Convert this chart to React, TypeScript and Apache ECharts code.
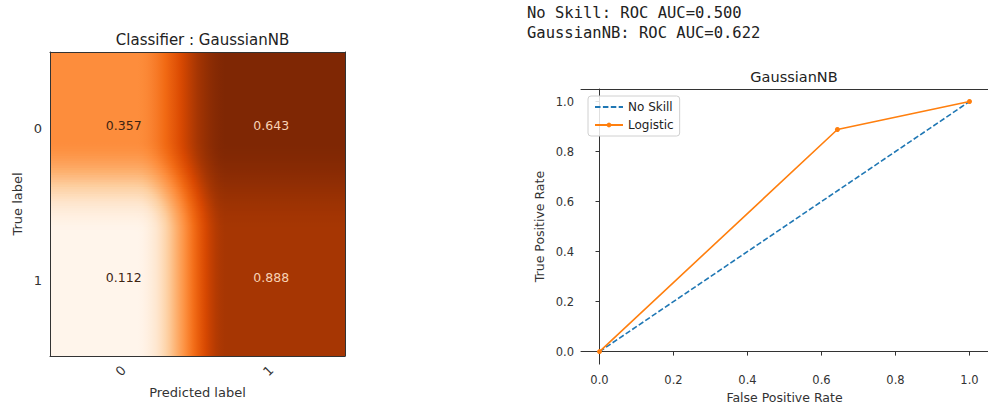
import React, { useEffect, useRef } from 'react';
import * as echarts from 'echarts';

// ---- data ----
const predictedLabels = ['0', '1'];
const trueLabels = ['0', '1'];
// normalized confusion matrix (rows = true label, cols = predicted label)
const cmRow0 = [0.357, 0.643];
const cmRow1 = [0.112, 0.888];
// colour intensity of each cell on the Oranges map
const shadeRow0 = [0.5, 1.0];
const shadeRow1 = [0.0, 0.875];

const rocTicks = [0, 0.2, 0.4, 0.6, 0.8, 1.0];
const noSkillFpr = [0, 1];
const noSkillTpr = [0, 1];
const logisticFpr = [0, 0.643, 1];
const logisticTpr = [0, 0.888, 1];

const aucNames = ['No Skill', 'GaussianNB'];
const aucValues = [0.5, 0.622];

// ---- styling helpers ----
const ORANGES = ['#fff5eb', '#fee6ce', '#fdd0a2', '#fdae6b', '#fd8d3c', '#f16913', '#d94801', '#a63603', '#7f2704'];
const FONT = 'DejaVu Sans';

function hexToRgb(h: string): number[] {
  const n = parseInt(h.slice(1), 16);
  return [(n >> 16) & 255, (n >> 8) & 255, n & 255];
}
const ORANGES_RGB = ORANGES.map(hexToRgb);
function lerp(a: number, b: number, t: number): number {
  return a + (b - a) * t;
}
function lerpRgb(a: number[], b: number[], t: number): number[] {
  return [lerp(a[0], b[0], t), lerp(a[1], b[1], t), lerp(a[2], b[2], t)];
}
function cmap(t: number): number[] {
  const tt = Math.max(0, Math.min(1, t)) * (ORANGES_RGB.length - 1);
  const i = Math.min(Math.floor(tt), ORANGES_RGB.length - 2);
  return lerpRgb(ORANGES_RGB[i], ORANGES_RGB[i + 1], tt - i);
}
function rgbStr(c: number[]): string {
  return `rgb(${Math.round(c[0])},${Math.round(c[1])},${Math.round(c[2])})`;
}
// image-interpolation weight between neighbouring cell centres
function blend(t: number): number {
  const x = Math.max(0, Math.min(1, (t - 0.08) / 0.62));
  return x * x * (3 - 2 * x);
}

export default function App() {
  const ref = useRef<HTMLDivElement>(null);

  useEffect(() => {
    if (!ref.current) return;
    const chart = echarts.init(ref.current, undefined, { renderer: 'svg' });

    const cmRows = [cmRow0, cmRow1];
    const shadeRows = [shadeRow0, shadeRow1];
    const cells: number[][] = [];
    for (let r = 0; r < trueLabels.length; r++) {
      for (let c = 0; c < predictedLabels.length; c++) {
        cells.push([c, r, cmRows[r][c], shadeRows[r][c]]);
      }
    }
    const allVals = cmRows.flat();
    const thresh = (Math.max(...allVals) + Math.min(...allVals)) / 2;

    const renderCell = (params: any, api: any) => {
      const c = api.value(0);
      const r = api.value(1);
      const v = api.value(2);
      const p00 = api.coord([0, 0]);
      const p11 = api.coord([1, 1]);
      const size = api.size([1, 1]);
      const cw = size[0];
      const ch = size[1];
      const center = api.coord([c, r]);
      const x0 = center[0] - cw / 2 - 0.6;
      const wEff = cw + 1.2;
      const y0 = center[1] - ch / 2;
      const xa = p00[0], xb = p11[0], ya = p00[1], yb = p11[1];
      const N = 64;
      const K = 32;
      const children: any[] = [];
      for (let i = 0; i < N; i++) {
        const ys = y0 + (ch * i) / N;
        const ym = ys + ch / (2 * N);
        const s = blend((ym - ya) / (yb - ya));
        const shL = lerp(shadeRows[0][0], shadeRows[1][0], s);
        const shR = lerp(shadeRows[0][1], shadeRows[1][1], s);
        const stops: any[] = [];
        for (let k = 0; k <= K; k++) {
          const x = x0 + (wEff * k) / K;
          const t = (x - xa) / (xb - xa);
          stops.push({ offset: k / K, color: rgbStr(cmap(lerp(shL, shR, blend(t)))) });
        }
        children.push({
          type: 'rect',
          silent: true,
          shape: { x: x0, y: ys - 0.4, width: wEff, height: ch / N + 0.8 },
          style: {
            fill: { type: 'linear', x: 0, y: 0, x2: 1, y2: 0, colorStops: stops },
          },
        });
      }
      children.push({
        type: 'text',
        silent: true,
        z2: 10,
        style: {
          text: v.toFixed(3),
          x: center[0],
          y: center[1] - 3,
          align: 'center',
          verticalAlign: 'middle',
          fontSize: 12.5,
          fontFamily: FONT,
          fill: v < thresh ? '#3d2412' : '#f8d2b4',
        },
      });
      return { type: 'group', children };
    };

    const axisCol = '#333';
    const tickFmt = (val: number) => val.toFixed(1);

    chart.setOption({
      animation: false,
      backgroundColor: '#ffffff',
      textStyle: { fontFamily: FONT },
      title: [
        {
          text: 'Classifier : GaussianNB',
          left: 197.5,
          top: 27,
          textAlign: 'center',
          textStyle: { fontFamily: FONT, fontSize: 15, fontWeight: 'normal', color: '#222' },
        },
        {
          text: 'GaussianNB',
          left: 789,
          top: 64,
          textAlign: 'center',
          textStyle: { fontFamily: FONT, fontSize: 14.5, fontWeight: 'normal', color: '#222' },
        },
      ],
      graphic: aucNames.map((n, i) => ({
        type: 'text',
        left: 527,
        top: 5 + i * 19.5,
        style: {
          text: `${n}: ROC AUC=${aucValues[i].toFixed(3)}`,
          fontFamily: 'DejaVu Sans Mono',
          fontSize: 15.5,
          fill: '#222',
        },
      })),
      legend: {
        data: [{ name: 'No Skill', itemStyle: { opacity: 0 } }, { name: 'Logistic' }],
        orient: 'vertical',
        left: 588,
        top: 96,
        itemWidth: 28,
        itemHeight: 6,
        itemGap: 6,
        padding: [5, 6, 5, 6],
        borderColor: '#d0d0d0',
        borderWidth: 1,
        borderRadius: 3,
        backgroundColor: 'rgba(255,255,255,0.85)',
        textStyle: { fontFamily: FONT, fontSize: 12, color: '#222' },
      },
      grid: [
        { left: 50, top: 52, width: 295, height: 304 },
        { left: 581, top: 89, width: 416, height: 278 },
      ],
      xAxis: [
        {
          type: 'category',
          gridIndex: 0,
          data: predictedLabels,
          position: 'bottom',
          z: 5,
          axisLine: { lineStyle: { color: axisCol, width: 1 } },
          axisTick: { alignWithLabel: true, length: 4, lineStyle: { color: axisCol } },
          axisLabel: { rotate: 45, fontSize: 13, color: '#333', margin: 12, fontFamily: FONT },
          splitLine: { show: false },
          name: 'Predicted label',
          nameLocation: 'middle',
          nameGap: 30,
          nameTextStyle: { fontSize: 13, color: '#333', fontFamily: FONT },
        },
        {
          type: 'category',
          gridIndex: 0,
          data: predictedLabels,
          position: 'top',
          z: 5,
          axisLine: { lineStyle: { color: axisCol, width: 1 } },
          axisTick: { show: false },
          axisLabel: { show: false },
          splitLine: { show: false },
        },
        {
          type: 'value',
          gridIndex: 1,
          min: -0.05,
          max: 1.05,
          position: 'bottom',
          axisLine: { lineStyle: { color: axisCol, width: 1 } },
          axisTick: { show: true, length: 4, customValues: rocTicks, lineStyle: { color: axisCol } },
          axisLabel: { customValues: rocTicks, formatter: tickFmt, fontSize: 11.5, color: '#333', margin: 10, fontFamily: FONT },
          splitLine: { show: false },
          name: 'False Positive Rate',
          nameLocation: 'middle',
          nameGap: 26,
          nameTextStyle: { fontSize: 12.5, color: '#333', fontFamily: FONT },
        },
        {
          type: 'value',
          gridIndex: 1,
          min: -0.05,
          max: 1.05,
          position: 'top',
          axisLine: { lineStyle: { color: axisCol, width: 1 } },
          axisTick: { show: false },
          axisLabel: { show: false },
          splitLine: { show: false },
        },
      ],
      yAxis: [
        {
          type: 'category',
          gridIndex: 0,
          data: trueLabels,
          inverse: true,
          position: 'left',
          z: 5,
          axisLine: { lineStyle: { color: axisCol, width: 1 } },
          axisTick: { alignWithLabel: true, length: 4, lineStyle: { color: axisCol } },
          axisLabel: { fontSize: 13, color: '#333', margin: 8, fontFamily: FONT },
          splitLine: { show: false },
          name: 'True label',
          nameLocation: 'middle',
          nameGap: 26,
          nameRotate: 90,
          nameTextStyle: { fontSize: 13, color: '#333', fontFamily: FONT },
        },
        {
          type: 'category',
          gridIndex: 0,
          data: trueLabels,
          inverse: true,
          position: 'right',
          z: 5,
          axisLine: { lineStyle: { color: axisCol, width: 1 } },
          axisTick: { show: false },
          axisLabel: { show: false },
          splitLine: { show: false },
        },
        {
          type: 'value',
          gridIndex: 1,
          min: -0.05,
          max: 1.05,
          position: 'left',
          axisLine: { show: true, lineStyle: { color: axisCol, width: 1 } },
          axisTick: { show: true, length: 4, customValues: rocTicks, lineStyle: { color: axisCol } },
          axisLabel: { customValues: rocTicks, formatter: tickFmt, fontSize: 11.5, color: '#333', margin: 7, fontFamily: FONT },
          splitLine: { show: false },
          name: 'True Positive Rate',
          nameLocation: 'middle',
          nameGap: 35,
          nameRotate: 90,
          nameTextStyle: { fontSize: 12.5, color: '#333', fontFamily: FONT },
        },
      ],
      series: [
        {
          type: 'custom',
          name: 'confusion',
          xAxisIndex: 0,
          yAxisIndex: 0,
          clip: true,
          renderItem: renderCell,
          data: cells,
          encode: { x: 0, y: 1 },
          z: 1,
        },
        {
          type: 'line',
          name: 'No Skill',
          xAxisIndex: 2,
          yAxisIndex: 2,
          data: noSkillFpr.map((x, i) => [x, noSkillTpr[i]]),
          symbol: 'none',
          lineStyle: { color: '#1f77b4', width: 1.6, type: [5.5, 2.4] },
          itemStyle: { color: '#1f77b4' },
          z: 3,
        },
        {
          type: 'line',
          name: 'Logistic',
          xAxisIndex: 2,
          yAxisIndex: 2,
          data: logisticFpr.map((x, i) => [x, logisticTpr[i]]),
          symbol: 'circle',
          symbolSize: 5,
          showSymbol: true,
          lineStyle: { color: '#ff7f0e', width: 1.6 },
          itemStyle: { color: '#ff7f0e' },
          z: 4,
        },
      ],
    });

    return () => {
      chart.dispose();
    };
  }, []);

  return (
    <div
      ref={ref}
      style={{ position: 'absolute', left: 0, top: 0, width: 988, height: 409, background: '#fff' }}
    />
  );
}
